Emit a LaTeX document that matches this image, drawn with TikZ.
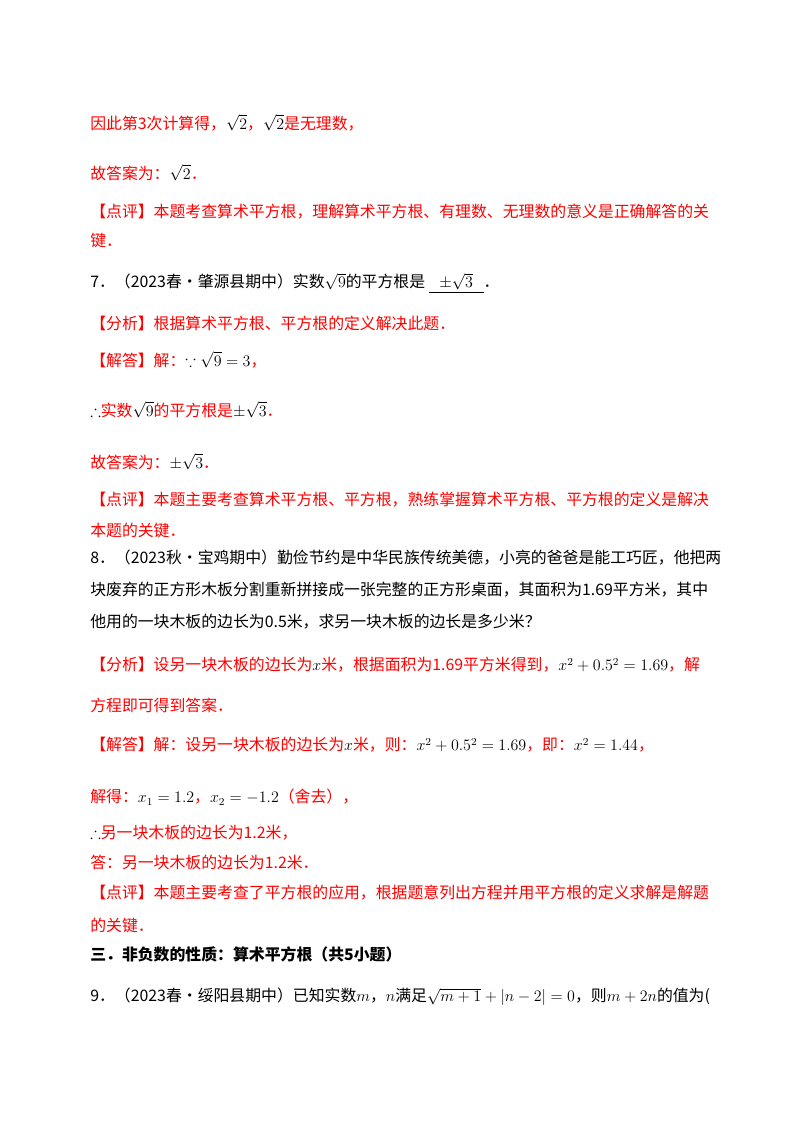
\documentclass[tikz,border=0pt]{standalone}
\usepackage{amssymb}
\usepackage{fontspec}
\setmainfont{Noto Sans CJK SC}
\definecolor{rd}{RGB}{255,0,0}
\begin{document}
\begin{tikzpicture}[x=0.75pt,y=-0.75pt,
  t/.style={anchor=west,inner sep=0pt,font=\fontsize{11.9}{14}\selectfont},
  r/.style={t,text=rd}]
\useasboundingbox[fill=white] (0,0) rectangle (800,1132);
\node[r] (l1) at (90,123) {因此第3次计算得，{\color{black}$\sqrt{2}$}，{\color{black}$\sqrt{2}$}是无理数，};
\node[r] (l2) at (90,173) {故答案为：{\color{black}$\sqrt{2}$}．};
\node[r] (l3) at (90,212) {【点评】本题考查算术平方根，理解算术平方根、有理数、无理数的意义是正确解答的关};
\node[r] (l4) at (90,240) {键．};
\node[t] (l5) at (90,283) {7．（2023春•肇源县期中）实数$\sqrt{9}$的平方根是\ \underline{\ \ \ $\pm\sqrt{3}$\ \ \ }．};
\node[r] (l6) at (90,323) {【分析】根据算术平方根、平方根的定义解决此题．};
\node[r] (l7) at (90,360) {【解答】解：{\color{black}$\because\sqrt{9}=3$}，};
\node[r] (l8) at (90,410) {{\color{black}$\therefore$}实数{\color{black}$\sqrt{9}$}的平方根是{\color{black}$\pm\sqrt{3}$}．};
\node[r] (l9) at (90,462) {故答案为：{\color{black}$\pm\sqrt{3}$}．};
\node[r] (l10) at (90,500) {【点评】本题主要考查算术平方根、平方根，熟练掌握算术平方根、平方根的定义是解决};
\node[r] (l11) at (90,530) {本题的关键．};
\node[t] (l12) at (90,558) {8．（2023秋•宝鸡期中）勤俭节约是中华民族传统美德，小亮的爸爸是能工巧匠，他把两};
\node[t] (l13) at (90,590) {块废弃的正方形木板分割重新拼接成一张完整的正方形桌面，其面积为1.69平方米，其中};
\node[t] (l14) at (90,622) {他用的一块木板的边长为0.5米，求另一块木板的边长是多少米？};
\node[r] (l15) at (90,665) {【分析】设另一块木板的边长为{\color{black}$x$}米，根据面积为1.69平方米得到，{\color{black}$x^2+0.5^2=1.69$}，解};
\node[r] (l16) at (90,705) {方程即可得到答案．};
\node[r] (l17) at (90,745) {【解答】解：设另一块木板的边长为{\color{black}$x$}米，则：{\color{black}$x^2+0.5^2=1.69$}，即：{\color{black}$x^2=1.44$}，};
\node[r] (l18) at (90,797) {解得：{\color{black}$x_1=1.2$}，{\color{black}$x_2=-1.2$}（舍去），};
\node[r] (l19) at (90,833) {{\color{black}$\therefore$}另一块木板的边长为1.2米，};
\node[r] (l20) at (90,862) {答：另一块木板的边长为1.2米．};
\node[r] (l21) at (90,893) {【点评】本题主要考查了平方根的应用，根据题意列出方程并用平方根的定义求解是解题};
\node[r] (l22) at (90,925) {的关键．};
\node[t,font=\fontsize{11.9}{14}\selectfont\bfseries] (l23) at (90,954) {三．非负数的性质：算术平方根（共5小题）};
\node[t] (l24) at (90,997) {9．（2023春•绥阳县期中）已知实数$m$，$n$满足$\sqrt{m+1}+|n-2|=0$，则$m+2n$的值为(};
\end{tikzpicture}
\end{document}
